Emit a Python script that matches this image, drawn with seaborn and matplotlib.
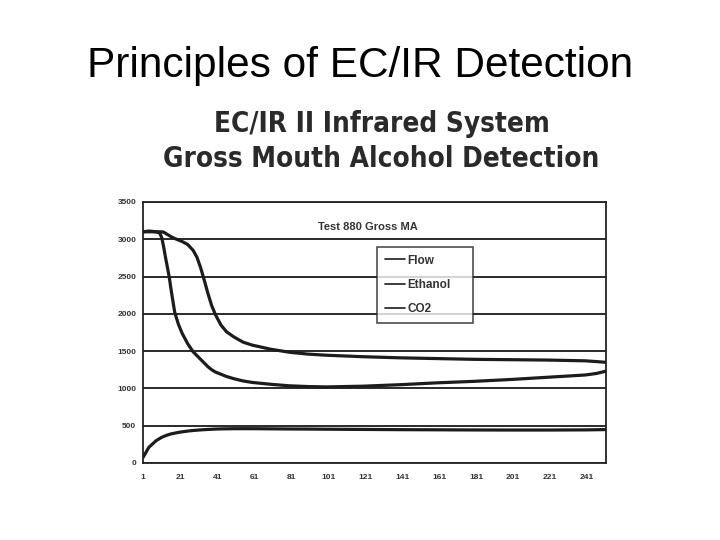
import matplotlib.pyplot as plt
import seaborn as sns
import numpy as np
import pandas as pd
from matplotlib.lines import Line2D

# sample number (x axis) and readings for each trace
samples = [1, 4, 8, 10, 11, 12, 13, 14, 15, 16, 18, 20, 22, 25, 28, 30, 32, 34, 36, 38, 40,
           43, 46, 50, 55, 60, 70, 80, 90, 100, 120, 140, 160, 180, 200, 220, 240, 246, 251]
flow = [3100, 3100, 3100, 3100, 3100, 3095, 3080, 3065, 3050, 3035, 3010, 2990, 2970, 2930,
        2850, 2760, 2620, 2450, 2270, 2110, 1990, 1850, 1760, 1690, 1620, 1580, 1525, 1485,
        1460, 1445, 1425, 1410, 1400, 1390, 1385, 1380, 1370, 1360, 1350]
ethanol = [3100, 3110, 3100, 3080, 3020, 2900, 2760, 2630, 2500, 2330, 2020, 1860, 1740, 1600,
           1490, 1440, 1390, 1340, 1290, 1250, 1220, 1190, 1160, 1130, 1100, 1080, 1055, 1035,
           1025, 1020, 1030, 1050, 1075, 1095, 1120, 1150, 1180, 1200, 1230]
co2 = [80, 210, 300, 330, 345, 355, 365, 375, 382, 390, 400, 410, 418, 428, 436, 440, 444, 447,
       450, 452, 455, 457, 458, 460, 460, 460, 458, 456, 455, 453, 450, 447, 445, 443, 442, 442,
       444, 446, 448]

series_names = ["Flow", "Ethanol", "CO2"]
y_ticks = [0, 500, 1000, 1500, 2000, 2500, 3000, 3500]
x_ticks = [1, 21, 41, 61, 81, 101, 121, 141, 161, 181, 201, 221, 241]

df = pd.DataFrame({
    "sample": samples * 3,
    "value": flow + ethanol + co2,
    "series": [n for n in series_names for _ in samples],
})

sns.set_style("white")
plt.rcParams['font.family'] = ['Liberation Sans', 'DejaVu Sans']

fig = plt.figure(figsize=(7.2, 5.4), dpi=100)
fig.patch.set_facecolor("white")

# slide title
fig.text(0.5, 0.858, "Principles of EC/IR Detection", ha="center", va="baseline",
         fontsize=30.5, color="black", family="Liberation Sans")

# scanned chart heading
fig.text(0.531, 0.7556, "EC/IR II Infrared System", ha="center", va="baseline",
         fontsize=20, fontweight="bold", color="#2a2a2a", family="DejaVu Sans",
         fontstretch="condensed")
fig.text(0.529, 0.6907, "Gross Mouth Alcohol Detection", ha="center", va="baseline",
         fontsize=20, fontweight="bold", color="#2a2a2a", family="DejaVu Sans",
         fontstretch="condensed")

ax = fig.add_axes([0.199, 0.1426, 0.642, 0.4834])
line_col = "#1c1c1c"
for y in y_ticks:
    ax.axhline(y, color="#2a2a2a", lw=1.4, zorder=1)

sns.lineplot(data=df, x="sample", y="value", hue="series", hue_order=series_names,
             palette={n: line_col for n in series_names}, linewidth=2.3, ax=ax,
             legend=False, zorder=3)

ax.set_xlim(1, 251)
ax.set_ylim(0, 3500)
ax.set_xticks(x_ticks)
ax.set_yticks(y_ticks)
ax.set_xticklabels([str(t) for t in x_ticks], fontsize=6, fontweight="bold", color="#333")
ax.set_yticklabels([str(t) for t in y_ticks], fontsize=6, fontweight="bold", color="#333")
ax.tick_params(axis="x", direction="out", length=3, width=1, pad=5, color="#333")
ax.tick_params(axis="y", direction="out", length=3, width=1, pad=2, color="#333")
ax.set_xlabel("")
ax.set_ylabel("")
for s in ax.spines.values():
    s.set_color("#222")
    s.set_linewidth(1.3)

ax.text(0.485, 0.904, "Test 880 Gross MA", transform=ax.transAxes, ha="center",
        va="center", fontsize=8, fontweight="bold", color="#333")

# legend box, stretched to the width seen in the scan
leg_handles = [Line2D([0], [0], color=line_col, lw=1.2) for _ in series_names]
leg = ax.legend(leg_handles, series_names, loc="upper left",
                bbox_to_anchor=(0.506, 0.54, 0.208, 0.288), mode="expand",
                frameon=True, fancybox=False, edgecolor="#222", fontsize=8.5,
                handlelength=1.7, handletextpad=0.2, labelspacing=1.05, borderpad=0.65,
                borderaxespad=0)
leg.get_frame().set_linewidth(1.2)
leg.set_zorder(5)
for t in leg.get_texts():
    t.set_fontweight("bold")
    t.set_color("#333")

fig.savefig("out.png", dpi=100)
